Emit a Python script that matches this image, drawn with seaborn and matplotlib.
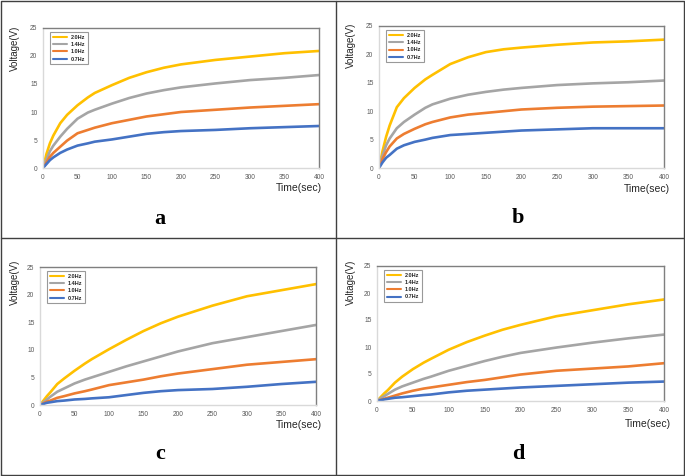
import matplotlib
matplotlib.use("Agg")
import matplotlib.pyplot as plt
from matplotlib.lines import Line2D
import seaborn as sns
import pandas as pd

# ---------------- data ----------------
time_sec = [0, 5, 10, 15, 25, 35, 50, 65, 75, 100, 125, 150, 175, 200, 250, 300, 350, 400]
series_labels = ["2.0Hz", "1.4Hz", "1.0Hz", "0.7Hz"]
series_colors = ["#FFC000", "#A5A5A5", "#ED7D31", "#4472C4"]
panel_letters = ["a", "b", "c", "d"]

a_20 = [0, 2.5, 4.4, 5.8, 8.0, 9.5, 11.2, 12.6, 13.4, 14.8, 16.1, 17.1, 17.9, 18.5, 19.3, 19.9, 20.5, 20.9]
a_14 = [0, 1.5, 3.0, 4.0, 5.6, 7.0, 8.8, 9.9, 10.4, 11.5, 12.5, 13.3, 13.9, 14.4, 15.1, 15.7, 16.1, 16.6]
a_10 = [0, 1.0, 2.0, 2.7, 3.8, 4.9, 6.2, 6.8, 7.2, 8.0, 8.6, 9.2, 9.6, 10.0, 10.4, 10.8, 11.1, 11.4]
a_07 = [0, 0.7, 1.4, 1.9, 2.7, 3.3, 4.0, 4.4, 4.7, 5.1, 5.6, 6.1, 6.4, 6.6, 6.8, 7.1, 7.3, 7.5]

b_20 = [0, 3.0, 5.5, 7.5, 10.7, 12.3, 14.1, 15.6, 16.4, 18.3, 19.5, 20.4, 20.9, 21.2, 21.7, 22.1, 22.3, 22.6]
b_14 = [0, 2.2, 4.0, 5.2, 7.0, 8.1, 9.4, 10.6, 11.2, 12.2, 12.9, 13.4, 13.8, 14.1, 14.6, 14.9, 15.1, 15.4]
b_10 = [0, 1.6, 2.8, 3.8, 5.2, 6.0, 6.9, 7.7, 8.1, 8.9, 9.4, 9.7, 10.0, 10.3, 10.6, 10.8, 10.9, 11.0]
b_07 = [0, 1.0, 1.8, 2.3, 3.4, 4.0, 4.6, 5.0, 5.3, 5.8, 6.0, 6.2, 6.4, 6.6, 6.8, 7.0, 7.0, 7.0]

c_20 = [0, 0.8, 1.6, 2.3, 3.8, 4.8, 6.2, 7.5, 8.3, 10.1, 11.8, 13.4, 14.8, 16.0, 18.0, 19.7, 20.8, 21.9]
c_14 = [0, 0.5, 1.0, 1.5, 2.4, 3.0, 3.9, 4.6, 5.0, 6.0, 7.0, 7.9, 8.8, 9.7, 11.2, 12.3, 13.4, 14.5]
c_10 = [0, 0.3, 0.6, 0.8, 1.3, 1.6, 2.1, 2.5, 2.8, 3.6, 4.1, 4.6, 5.2, 5.7, 6.5, 7.3, 7.8, 8.3]
c_07 = [0, 0.2, 0.4, 0.5, 0.7, 0.8, 1.0, 1.1, 1.2, 1.4, 1.8, 2.2, 2.5, 2.7, 2.9, 3.3, 3.8, 4.2]

d_20 = [0, 0.7, 1.4, 2.0, 3.4, 4.5, 5.9, 7.1, 7.8, 9.5, 10.9, 12.1, 13.2, 14.1, 15.7, 16.8, 17.9, 18.8]
d_14 = [0, 0.5, 0.9, 1.3, 2.1, 2.7, 3.4, 4.1, 4.5, 5.6, 6.5, 7.4, 8.2, 8.9, 9.9, 10.8, 11.6, 12.3]
d_10 = [0, 0.2, 0.4, 0.6, 1.0, 1.4, 1.9, 2.3, 2.5, 3.0, 3.5, 3.9, 4.4, 4.9, 5.6, 6.0, 6.4, 7.0]
d_07 = [0, 0.15, 0.3, 0.4, 0.6, 0.7, 0.9, 1.1, 1.2, 1.6, 1.9, 2.1, 2.3, 2.5, 2.8, 3.1, 3.4, 3.6]

panels = [[a_20, a_14, a_10, a_07],
          [b_20, b_14, b_10, b_07],
          [c_20, c_14, c_10, c_07],
          [d_20, d_14, d_10, d_07]]

x_ticks = [0, 50, 100, 150, 200, 250, 300, 350, 400]
y_ticks = [0, 5, 10, 15, 20, 25]

# ---------------- layout (pixels) ----------------
W, H = 685, 476
# axes boxes: left, top, right, bottom (pixels from top-left)
boxes = [(43, 28, 319, 168), (379, 26, 664, 168),
         (40, 267, 316, 405), (377, 266, 664, 401)]
xlabel_pos = [(299, 188), (647, 189), (299, 425), (648, 424)]
ylabel_pos = [(15, 48), (351, 45), (15, 282), (351, 282)]
letter_pos = [(160, 219), (518, 218), (160, 454), (518, 454)]

sns.set_theme(style="white")
plt.rcParams['font.family'] = ['Liberation Sans', 'DejaVu Sans']

fig = plt.figure(figsize=(W / 100, H / 100), dpi=100)
fig.patch.set_facecolor("white")

for i, (l, t, r, b) in enumerate(boxes):
    ax = fig.add_axes([l / W, 1 - b / H, (r - l) / W, (b - t) / H])
    rows = []
    for lab, vals in zip(series_labels, panels[i]):
        for tt, v in zip(time_sec, vals):
            rows.append({"Time": tt, "Voltage": v, "Series": lab})
    df = pd.DataFrame(rows)
    sns.lineplot(data=df, x="Time", y="Voltage", hue="Series",
                 hue_order=series_labels, palette=series_colors,
                 linewidth=1.9, ax=ax, legend=True)
    ax.set_xlim(0, 400)
    ax.set_ylim(0, 25)
    ax.set_xticks(x_ticks)
    ax.set_yticks(y_ticks)
    ax.tick_params(axis="both", length=0, labelsize=4.8, labelcolor="#595959", pad=4)
    ax.set_xlabel("")
    ax.set_ylabel("")
    for s in ["top", "right"]:
        ax.spines[s].set_color("#7f7f7f")
        ax.spines[s].set_linewidth(1.0)
    for s in ["left", "bottom"]:
        ax.spines[s].set_color("#d9d9d9")
        ax.spines[s].set_linewidth(1.0)
    leg = ax.legend(loc="upper left", bbox_to_anchor=(0.025, 0.97),
                    prop={"size": 4, "weight": "bold"}, frameon=True,
                    fancybox=False, handlelength=2.6, handletextpad=0.6,
                    labelspacing=0.4, borderpad=0.5, borderaxespad=0)
    leg.get_frame().set_edgecolor("#808080")
    leg.get_frame().set_linewidth(0.8)
    for h in leg.get_lines():
        h.set_linewidth(1.5)

    fx, fy = xlabel_pos[i]
    fig.text(fx / W, 1 - fy / H, "Time(sec)", ha="center", va="center",
             fontsize=7.5, color="#262626")
    fx, fy = ylabel_pos[i]
    fig.text(fx / W, 1 - fy / H, "Voltage(V)", ha="center", va="center",
             rotation=90, fontsize=7, color="#262626")
    fx, fy = letter_pos[i]
    fig.text(fx / W, 1 - fy / H, panel_letters[i], ha="center", va="center",
             fontsize=16, fontweight="bold", family="Liberation Serif",
             color="black")

# panel borders
border_kw = dict(color="#404040", linewidth=1.0, transform=fig.transFigure)
x0, x1 = 1.0 / W, 684.0 / W
y0, y1 = 1 - 475.0 / H, 1 - 1.0 / H
xm = 336.0 / W
ym = 1 - 238.0 / H
fig.add_artist(Line2D([x0, x1, x1, x0, x0], [y0, y0, y1, y1, y0], **border_kw))
fig.add_artist(Line2D([xm, xm], [y0, y1], **border_kw))
fig.add_artist(Line2D([x0, x1], [ym, ym], **border_kw))

fig.savefig("out.png", dpi=100, facecolor="white")
